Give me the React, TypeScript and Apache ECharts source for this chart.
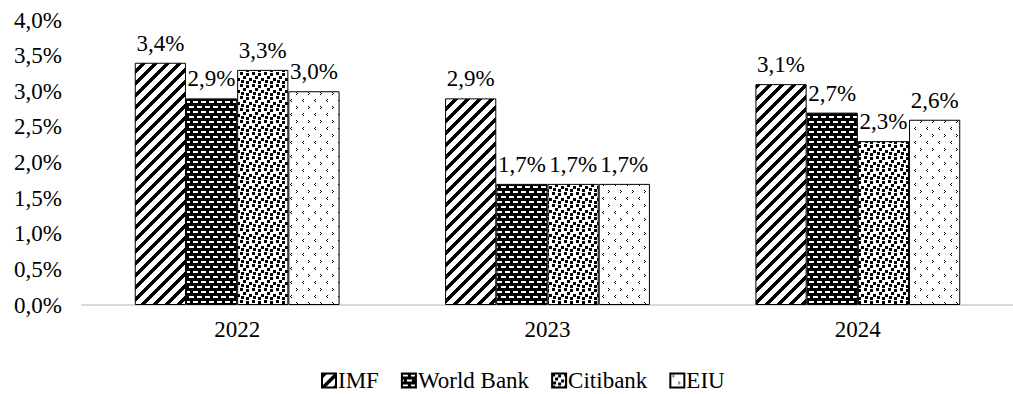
import React, { useEffect, useRef } from 'react';
import * as echarts from 'echarts';

const categories = ['2022', '2023', '2024'];
const seriesNames = ['IMF', 'World Bank', 'Citibank', 'EIU'];
const imf = [3.4, 2.9, 3.1];
const worldBank = [2.9, 1.7, 2.7];
const citibank = [3.3, 1.7, 2.3];
const eiu = [3.0, 1.7, 2.6];
const yMin = 0;
const yMax = 4;
const yStep = 0.5;

const FONT = 'Liberation Serif';

function fmt(v: number) {
  return v.toFixed(1).replace('.', ',') + '%';
}

function makeTile(w: number, h: number, draw: (ctx: CanvasRenderingContext2D) => void) {
  const c = document.createElement('canvas');
  c.width = w;
  c.height = h;
  const ctx = c.getContext('2d')!;
  draw(ctx);
  return c;
}

function patterns() {
  const stripes = makeTile(12, 12, (ctx) => {
    ctx.fillStyle = '#fff';
    ctx.fillRect(0, 0, 12, 12);
    ctx.fillStyle = '#000';
    for (let x = 0; x < 12; x++) {
      for (let y = 0; y < 12; y++) {
        if ((x + y) % 12 < 5) ctx.fillRect(x, y, 1, 1);
      }
    }
  });
  const bricks = makeTile(8, 10, (ctx) => {
    ctx.fillStyle = '#000';
    ctx.fillRect(0, 0, 8, 10);
    ctx.fillStyle = '#fff';
    ctx.fillRect(1, 1, 5, 2);
    ctx.fillRect(5, 6, 3, 2);
    ctx.fillRect(0, 6, 2, 2);
  });
  const squares = makeTile(12, 12, (ctx) => {
    ctx.fillStyle = '#fff';
    ctx.fillRect(0, 0, 12, 12);
    ctx.fillStyle = '#000';
    const pts = [[0, 0], [6, 1], [3, 4], [9, 6], [1, 8], [6, 9]];
    pts.forEach(([x, y]) => ctx.fillRect(x, y, 3, 3));
  });
  const dots = makeTile(12, 14, (ctx) => {
    ctx.fillStyle = '#fff';
    ctx.fillRect(0, 0, 12, 14);
    ctx.fillStyle = '#000';
    const px = [[3, 1], [2, 2], [3, 3], [8, 8], [9, 9], [8, 10]];
    px.forEach(([x, y]) => ctx.fillRect(x, y, 1, 1));
  });
  return [stripes, bricks, squares, dots];
}

export default function App() {
  const ref = useRef<HTMLDivElement>(null);
  useEffect(() => {
    if (!ref.current) return;
    const chart = echarts.init(ref.current, undefined, { renderer: 'svg' });
    const tiles = patterns();
    const data = [imf, worldBank, citibank, eiu];
    const txt = { fontFamily: FONT, fontSize: 23, color: '#000' };
    chart.setOption({
      animation: false,
      backgroundColor: '#fff',
      textStyle: { fontFamily: FONT, color: '#000' },
      grid: { left: 82, top: 20, height: 285, width: 943 },
      legend: {
        left: 316,
        top: 364,
        icon: 'rect',
        itemWidth: 14,
        itemHeight: 14,
        itemGap: 22,
        textStyle: { ...txt, padding: [0, 0, 0, -3] },
        data: seriesNames,
      },
      xAxis: {
        type: 'category',
        data: categories,
        axisLine: { lineStyle: { color: '#d9d9d9', width: 2 } },
        axisTick: { show: false },
        axisLabel: { ...txt, margin: 13 },
      },
      yAxis: {
        type: 'value',
        min: yMin,
        max: yMax,
        interval: yStep,
        splitLine: { show: false },
        axisLine: { show: false },
        axisTick: { show: false },
        axisLabel: { ...txt, margin: 20, formatter: (v: number) => fmt(v) },
      },
      series: seriesNames.map((name, i) => ({
        name,
        type: 'bar',
        data: data[i],
        barGap: '0%',
        barCategoryGap: '34%',
        itemStyle: {
          color: { image: tiles[i], repeat: 'repeat' },
          borderColor: '#000',
          borderWidth: 1,
        },
        label: {
          show: true,
          position: 'top',
          distance: 8,
          ...txt,
          formatter: (p: any) => fmt(p.value),
        },
      })),
    });
    return () => chart.dispose();
  }, []);
  return <div ref={ref} style={{ position: 'fixed', left: 0, top: 0, width: 1013, height: 394 }} />;
}
